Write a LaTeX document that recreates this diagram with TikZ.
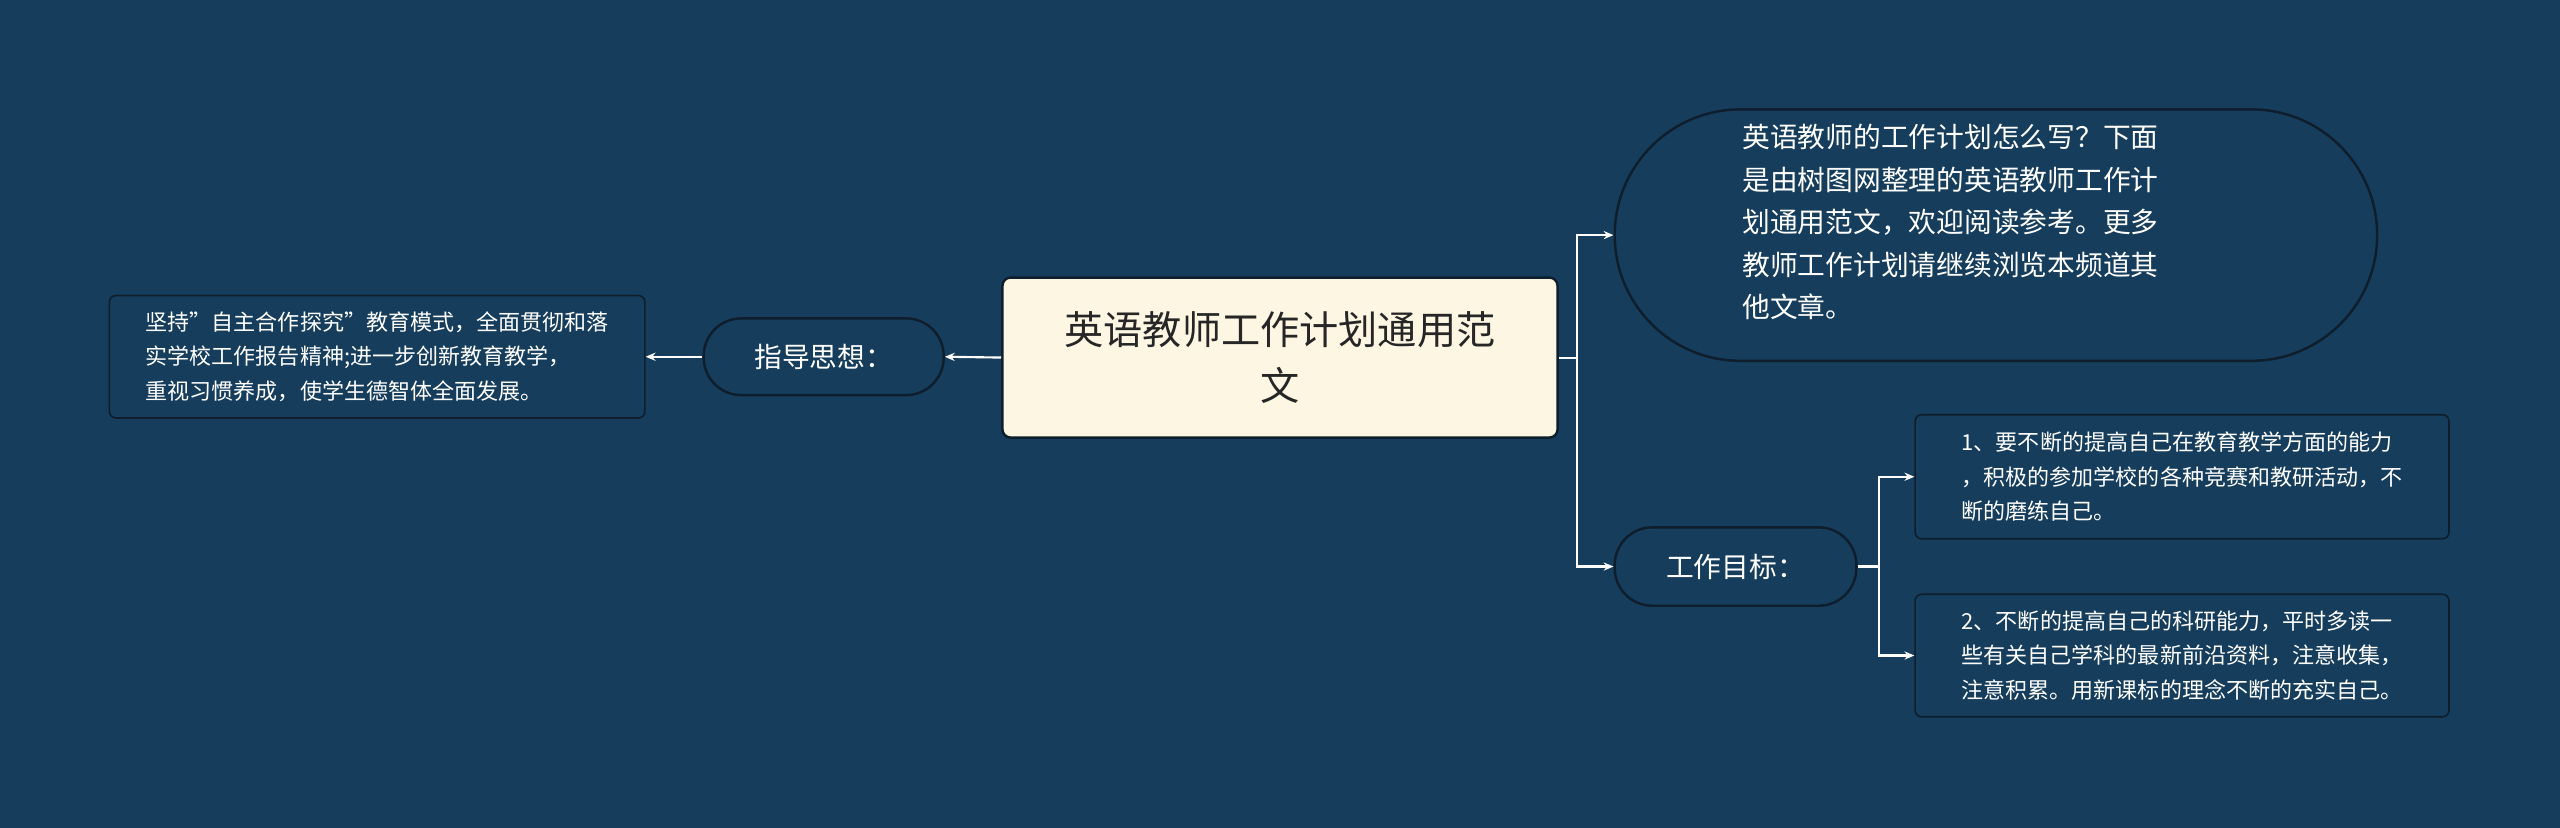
\documentclass[tikz,border=0pt]{standalone}
\usepackage{fontspec}
\setmainfont{Noto Sans CJK SC}
\usetikzlibrary{arrows.meta}
\definecolor{bg}{HTML}{163D5C}
\definecolor{cream}{HTML}{FDF6E3}
\definecolor{edge}{HTML}{0E1E2C}
\tikzset{
  conn/.style={draw=white,line width=1.3pt,-{Stealth[length=6pt,width=5pt]}},
  pill/.style={draw=edge,line width=1.5pt,fill=bg,rounded corners=23pt,text=white,font=\fontsize{17}{21}\selectfont},
  leaf/.style={draw=edge,line width=1pt,fill=bg,rounded corners=4pt,text=white,font=\fontsize{13.5}{21}\selectfont,align=left,inner sep=6pt}
}
\begin{document}
\begin{tikzpicture}[x=1pt,y=-1pt]
\useasboundingbox[fill=bg] (0,0) rectangle (1568,507);
\node[draw=edge,line width=1.5pt,fill=cream,rounded corners=5pt,minimum width=340pt,minimum height=98pt,align=center,font=\fontsize{24}{34}\selectfont,text=black!85] (root) at (784,219) {英语教师工作计划通用范\\文};
\node[pill,rounded corners=77pt,minimum width=467pt,minimum height=154pt] (intro) at (1222.5,144) {};
\node[text=white,align=left,font=\fontsize{17}{26}\selectfont,anchor=north west,inner sep=0pt] (introtxt) at (1067,76) {英语教师的工作计划怎么写？下面\\是由树图网整理的英语教师工作计\\划通用范文，欢迎阅读参考。更多\\教师工作计划请继续浏览本频道其\\他文章。};
\node[pill,minimum width=148pt,minimum height=48pt] (goal) at (1063,347) {工作目标：};
\node[leaf,minimum width=327pt,minimum height=76pt] (g1) at (1336.5,292) {1、要不断的提高自己在教育教学方面的能力\\，积极的参加学校的各种竞赛和教研活动，不\\断的磨练自己。};
\node[leaf,minimum width=327pt,minimum height=75pt] (g2) at (1336.5,401.5) {2、不断的提高自己的科研能力，平时多读一\\些有关自己学科的最新前沿资料，注意收集，\\注意积累。用新课标的理念不断的充实自己。};
\node[pill,minimum width=147pt,minimum height=47pt] (guide) at (504.5,218.5) {指导思想：};
\node[leaf,minimum width=328pt,minimum height=75pt] (gl) at (231,218.5) {坚持"自主合作探究"教育模式，全面贯彻和落\\实学校工作报告精神;进一步创新教育教学，\\重视习惯养成，使学生德智体全面发展。};
\draw[conn] (root.east) -- ++(11,0) |- (intro.west);
\draw[conn] (root.east) -- ++(11,0) |- (goal.west);
\draw[conn] (goal.east) -- ++(13,0) |- (g1.west);
\draw[conn] (goal.east) -- ++(13,0) |- (g2.west);
\draw[conn] (root.west) -- (guide.east);
\draw[conn] (guide.west) -- (gl.east);
\end{tikzpicture}
\end{document}
